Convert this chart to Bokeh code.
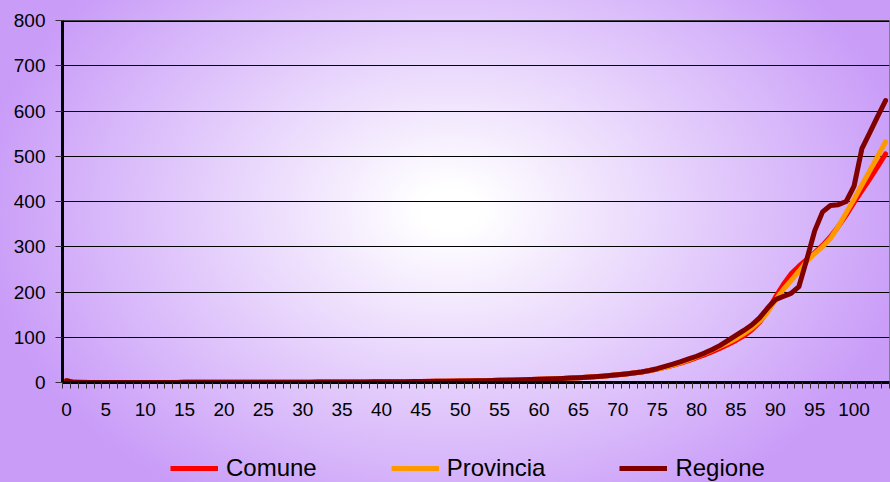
from bokeh.plotting import figure
from bokeh.layouts import column
from bokeh.models import Range1d, FixedTicker, Legend, LegendItem, Span
from bokeh.embed import file_html
from bokeh.resources import INLINE

# ---- data -------------------------------------------------------------
ages = list(range(0, 105))
x_tick_values = list(range(0, 101, 5))
x_tick_labels = [str(v) for v in x_tick_values]
y_ticks = [0, 100, 200, 300, 400, 500, 600, 700, 800]
series_names = ["Comune", "Provincia", "Regione"]

comune = [
    4.2, 0.4, 0.3, 0.2, 0.2, 0.1, 0.1, 0.1, 0.1, 0.1,
    0.1, 0.1, 0.1, 0.2, 0.2, 0.3, 0.4, 0.5, 0.6, 0.7,
    0.7, 0.7, 0.7, 0.7, 0.7, 0.7, 0.7, 0.7, 0.7, 0.8,
    0.8, 0.8, 0.9, 0.9, 1.0, 1.0, 1.1, 1.2, 1.3, 1.4,
    1.5, 1.6, 1.8, 1.9, 2.1, 2.3, 2.5, 2.7, 2.9, 3.1,
    3.4, 3.6, 3.9, 4.2, 4.5, 4.9, 5.3, 5.7, 6.1, 6.6,
    7.1, 7.7, 8.3, 9.0, 9.8, 10.7, 11.7, 12.8, 14.1, 15.5,
    17.1, 18.9, 20.9, 23.2, 26.0, 29.5, 33.5, 38.0, 43.0, 48.5,
    55, 61, 68, 76, 84, 93, 103, 116, 133, 158,
    188, 216, 240, 257, 272, 287, 303, 322, 345, 370,
    398, 424, 450, 477, 505,
]

provincia = [
    3.9, 0.3, 0.2, 0.2, 0.1, 0.1, 0.1, 0.1, 0.1, 0.1,
    0.1, 0.1, 0.1, 0.2, 0.2, 0.3, 0.4, 0.5, 0.6, 0.6,
    0.7, 0.7, 0.7, 0.7, 0.7, 0.7, 0.7, 0.7, 0.7, 0.8,
    0.8, 0.8, 0.9, 0.9, 1.0, 1.0, 1.1, 1.2, 1.3, 1.4,
    1.5, 1.6, 1.7, 1.9, 2.0, 2.2, 2.4, 2.6, 2.8, 3.0,
    3.3, 3.5, 3.8, 4.1, 4.4, 4.8, 5.2, 5.6, 6.0, 6.5,
    7.0, 7.6, 8.2, 8.9, 9.7, 10.6, 11.6, 12.7, 14.0, 15.4,
    17.0, 18.8, 20.8, 23.1, 26.0, 29.5, 33.5, 38.5, 44.0, 50.0,
    57, 64, 72, 80, 88, 97, 108, 120, 135, 155,
    182, 205, 225, 246, 268, 285, 300, 318, 345, 375,
    405, 437, 468, 500, 532,
]

regione = [
    3.8, 0.3, 0.2, 0.2, 0.1, 0.1, 0.1, 0.1, 0.1, 0.1,
    0.1, 0.1, 0.1, 0.2, 0.2, 0.3, 0.4, 0.5, 0.6, 0.6,
    0.7, 0.7, 0.7, 0.7, 0.7, 0.7, 0.7, 0.7, 0.7, 0.8,
    0.8, 0.8, 0.9, 0.9, 1.0, 1.0, 1.1, 1.2, 1.3, 1.4,
    1.5, 1.6, 1.7, 1.9, 2.0, 2.2, 2.4, 2.6, 2.8, 3.0,
    3.3, 3.5, 3.8, 4.1, 4.4, 4.8, 5.2, 5.6, 6.0, 6.5,
    7.0, 7.6, 8.2, 8.9, 9.7, 10.6, 11.6, 12.7, 14.0, 15.4,
    17.0, 18.8, 20.8, 23.1, 26.5, 30.5, 35.5, 40.5, 46.0, 52.0,
    58, 65, 73, 82, 93, 104, 115, 127, 143, 164,
    183, 190, 197, 212, 272, 335, 377, 391, 393, 400,
    434, 517, 552, 588, 623,
]

colors = ["#FF0000", "#FF9900", "#800000"]
all_series = [comune, provincia, regione]

# ---- main chart -------------------------------------------------------
FONT = "Liberation Sans"

p = figure(
    width=890, height=430,
    output_backend="svg", toolbar_location=None,
    x_range=Range1d(-0.5, len(ages) - 0.5),
    y_range=Range1d(y_ticks[0], y_ticks[-1]),
    min_border_left=62, min_border_right=1,
    min_border_top=20, min_border_bottom=48,
    border_fill_color=None, background_fill_color=None,
    outline_line_color="#7f7f7f", outline_line_width=1,
)

# x axis (category style: labels every 5, tick marks between categories)
xa = p.xaxis[0]
xa.ticker = FixedTicker(ticks=x_tick_values,
                        minor_ticks=[a - 0.5 for a in ages] + [ages[-1] + 0.5])
xa.major_label_overrides = {v: lab for v, lab in zip(x_tick_values, x_tick_labels)}
xa.major_tick_line_color = None
xa.minor_tick_line_color = "#333333"
xa.minor_tick_in = 0
xa.minor_tick_out = 6
xa.axis_line_color = "black"
xa.axis_line_width = 3
xa.major_label_text_font = FONT
xa.major_label_text_font_size = "19px"
xa.major_label_text_color = "black"
xa.major_label_standoff = 14

# y axis
ya = p.yaxis[0]
ya.ticker = FixedTicker(ticks=y_ticks, minor_ticks=[])
ya.major_tick_in = 0
ya.major_tick_out = 7
ya.major_tick_line_color = "#333333"
ya.minor_tick_line_color = None
ya.axis_line_color = "black"
ya.axis_line_width = 3
ya.major_label_text_font = FONT
ya.major_label_text_font_size = "19px"
ya.major_label_text_color = "black"
ya.major_label_standoff = 10

p.xgrid.visible = False
p.ygrid.ticker = FixedTicker(ticks=y_ticks)
p.ygrid.grid_line_color = "black"
p.ygrid.grid_line_width = 1

p.add_layout(Span(location=y_ticks[-1], dimension="width",
                  line_color="black", line_width=3))

for ys, col in zip(all_series, colors):
    p.line(ages, ys, line_color=col, line_width=5,
           line_join="round", line_cap="round")

# ---- legend strip (separate small figure below the chart) -------------
# The same series are drawn here on a y range below all values, so the
# lines themselves fall outside the strip and only the legend shows.
leg = figure(
    width=890, height=52,
    output_backend="svg", toolbar_location=None,
    x_range=Range1d(-0.5, len(ages) - 0.5), y_range=Range1d(-2, -1),
    x_axis_type=None, y_axis_type=None,
    min_border_left=0, min_border_right=0, min_border_top=0, min_border_bottom=0,
    border_fill_color=None, background_fill_color=None, outline_line_color=None,
)
leg.xgrid.visible = False
leg.ygrid.visible = False
leg_renderers = [leg.line(ages, ys, line_color=col, line_width=5)
                 for ys, col in zip(all_series, colors)]

legend = Legend(
    items=[LegendItem(label=n, renderers=[r]) for n, r in zip(series_names, leg_renderers)],
    orientation="horizontal",
    location=(108, 0),
    background_fill_alpha=0, border_line_color=None,
    label_text_font=FONT, label_text_font_size="24px", label_text_color="black",
    glyph_width=48, glyph_height=24, label_height=24,
    label_standoff=8, spacing=74, padding=0, margin=0,
)
leg.add_layout(legend)

layout = column(p, leg, spacing=0)
layout.styles = {
    "background": "radial-gradient(ellipse 470px 340px at 450px 210px, "
                  "#ffffff 0%, #ffffff 6%, #c99cf8 100%)",
}

open("out.html", "w").write(file_html(layout, INLINE))
